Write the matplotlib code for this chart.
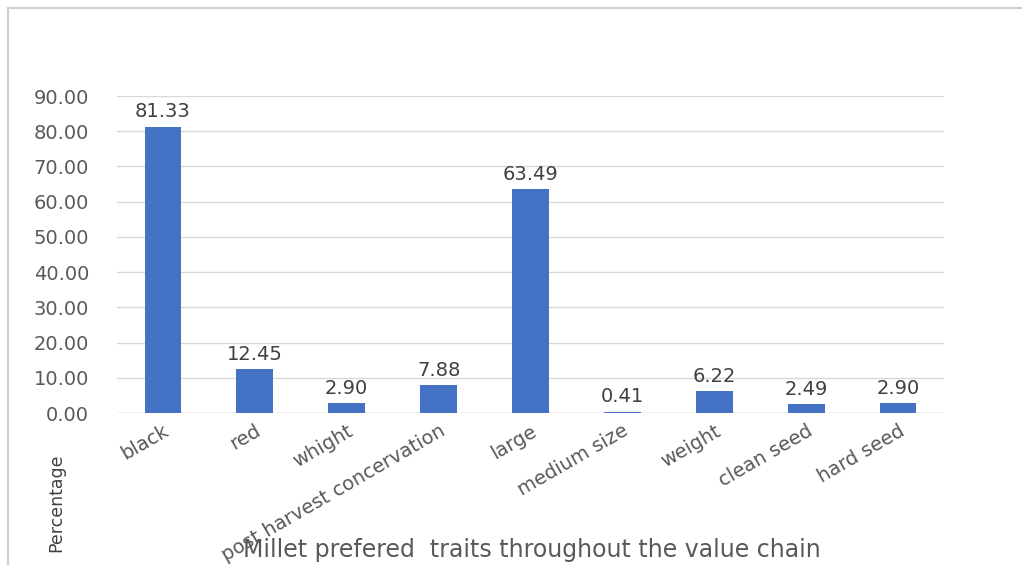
import matplotlib.pyplot as plt
from matplotlib.patches import Rectangle

traits = ['black', 'red', 'whight', 'post harvest concervation', 'large',
          'medium size', 'weight', 'clean seed', 'hard seed']
percent = [81.33, 12.45, 2.90, 7.88, 63.49, 0.41, 6.22, 2.49, 2.90]
yticks = [0, 10, 20, 30, 40, 50, 60, 70, 80, 90]

fig = plt.figure(figsize=(10.22, 5.65), dpi=100)
ax = fig.add_axes([0.1145, 0.269, 0.8092, 0.561])

x = range(len(traits))
bars = ax.bar(x, percent, width=0.4, color='#4472C4', zorder=3)
for b, v in zip(bars, percent):
    ax.text(b.get_x() + b.get_width() / 2, v + 1.5, f'{v:.2f}',
            ha='center', va='bottom', fontsize=14, color='#404040')

ax.set_xlim(-0.5, len(traits) - 0.5)
ax.set_ylim(0, 90)
ax.set_yticks(yticks)
ax.set_yticklabels([f'{t:.2f}' for t in yticks], fontsize=14, color='#595959')
ax.yaxis.grid(True, color='#d9d9d9', linewidth=1, zorder=0)
ax.tick_params(axis='both', length=0)
ax.tick_params(axis='y', pad=20)
ax.tick_params(axis='x', pad=6)
ax.set_xticks(list(x))
ax.set_xticklabels(traits, rotation=30, ha='right', rotation_mode='anchor',
                   fontsize=14, color='#595959')
for lbl in ax.get_xticklabels():
    lbl.set_x(lbl.get_position()[0])
for s in ax.spines.values():
    s.set_visible(False)
ax.axhline(0, color='#d9d9d9', linewidth=1, zorder=2)

fig.text(0.055, 0.110, 'Percentage', rotation=90, ha='center', va='center',
         fontsize=12.5, color='#404040')
fig.text(0.52, 0.005, 'Millet prefered  traits throughout the value chain',
         ha='center', va='bottom', fontsize=17, color='#595959')

# chart frame
fig.patches.append(Rectangle((0.008, -0.1), 1.2, 1.086, transform=fig.transFigure,
                             fill=False, edgecolor='#d0d0d0', linewidth=1.5))

fig.savefig('out.png', dpi=100)
